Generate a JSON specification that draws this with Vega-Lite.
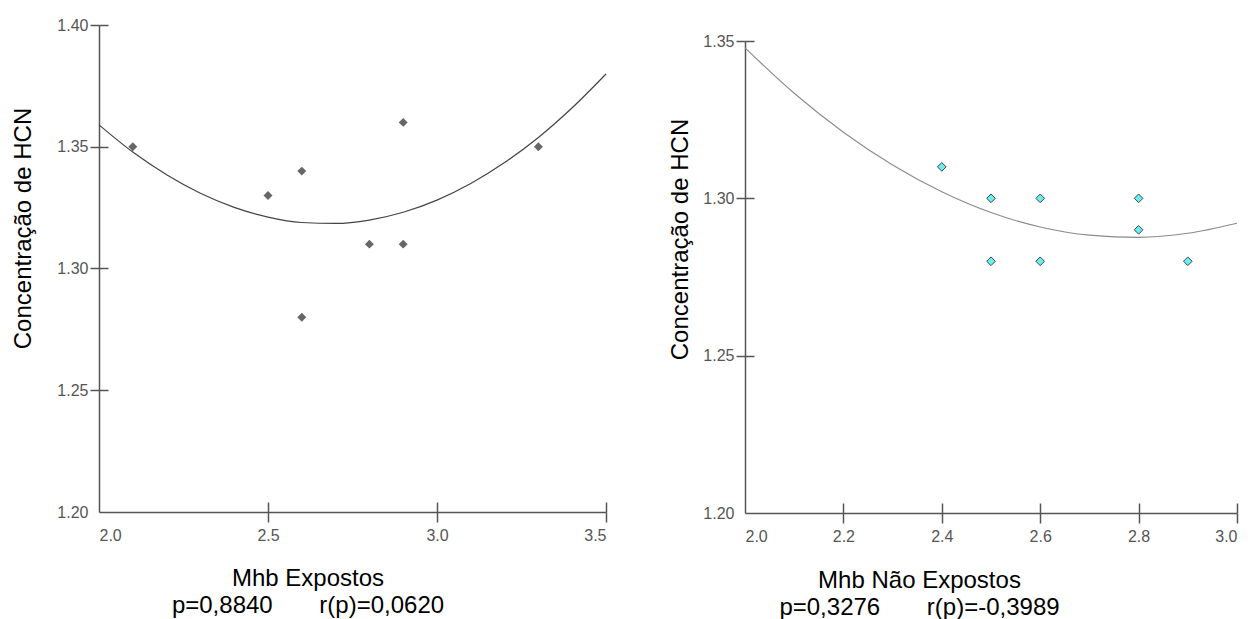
{
  "$schema": "https://vega.github.io/schema/vega-lite/v6.json",
  "background": "white",
  "padding": {"left": 11, "top": 17, "right": 0, "bottom": 0},
  "datasets": {
    "exp": [
      {"x": 2.1, "y": 1.35}, {"x": 2.5, "y": 1.33}, {"x": 2.6, "y": 1.34}, {"x": 2.6, "y": 1.28},
      {"x": 2.8, "y": 1.31}, {"x": 2.9, "y": 1.36}, {"x": 2.9, "y": 1.31}, {"x": 3.3, "y": 1.35}
    ],
    "exp_fit": [
      {"x": 2.0, "y": 1.3590}, {"x": 2.1, "y": 1.3478}, {"x": 2.2, "y": 1.3385}, {"x": 2.3, "y": 1.3309},
      {"x": 2.4, "y": 1.3251}, {"x": 2.5, "y": 1.3211}, {"x": 2.6, "y": 1.3189}, {"x": 2.7, "y": 1.3185},
      {"x": 2.8, "y": 1.3199}, {"x": 2.9, "y": 1.3231}, {"x": 3.0, "y": 1.3281}, {"x": 3.1, "y": 1.3349},
      {"x": 3.2, "y": 1.3435}, {"x": 3.3, "y": 1.3538}, {"x": 3.4, "y": 1.3660}, {"x": 3.5, "y": 1.3799}
    ],
    "nexp": [
      {"x": 2.4, "y": 1.31}, {"x": 2.5, "y": 1.30}, {"x": 2.6, "y": 1.30}, {"x": 2.8, "y": 1.30},
      {"x": 2.8, "y": 1.29}, {"x": 2.5, "y": 1.28}, {"x": 2.6, "y": 1.28}, {"x": 2.9, "y": 1.28}
    ],
    "nexp_fit": [
      {"x": 2.0, "y": 1.3478}, {"x": 2.1, "y": 1.3334}, {"x": 2.2, "y": 1.3210}, {"x": 2.3, "y": 1.3106},
      {"x": 2.4, "y": 1.3021}, {"x": 2.5, "y": 1.2955}, {"x": 2.6, "y": 1.2909}, {"x": 2.7, "y": 1.2883},
      {"x": 2.8, "y": 1.2876}, {"x": 2.9, "y": 1.2889}, {"x": 3.0, "y": 1.2921}
    ],
    "empty": []
  },
  "config": {
    "view": {"stroke": null},
    "axis": {
      "grid": false,
      "domainColor": "#555555",
      "domainWidth": 1.5,
      "tickColor": "#555555",
      "tickWidth": 1.5,
      "labelColor": "#555555",
      "labelFont": "Liberation Sans, Arial, sans-serif",
      "labelFontSize": 16,
      "titleFont": "Liberation Sans, Arial, sans-serif",
      "titleFontSize": 24,
      "titleFontWeight": "normal",
      "titleColor": "#000000"
    }
  },
  "concat": [
    {
      "width": 507,
      "height": 487,
      "layer": [
        {
          "data": {"name": "exp_fit"},
          "mark": {"type": "line", "color": "#444444", "strokeWidth": 1.2, "interpolate": "monotone"},
          "encoding": {
            "x": {"field": "x", "type": "quantitative",
              "scale": {"domain": [2.0, 3.5], "nice": false, "zero": false},
              "axis": {"orient": "bottom", "offset": -10, "tickSize": 10, "labels": false, "domain": false, "title": null,
                "values": [2.0, 2.5, 3.0, 3.5],
                "tickOpacity": {"condition": {"test": "datum.value < 2.01", "value": 0}, "value": 1}}},
            "y": {"field": "y", "type": "quantitative",
              "scale": {"domain": [1.2, 1.4], "nice": false, "zero": false},
              "axis": {"orient": "left", "offset": -9, "tickSize": 9, "labels": false, "domain": false, "title": null,
                "values": [1.2, 1.25, 1.3, 1.35, 1.4],
                "tickOpacity": {"condition": {"test": "datum.value < 1.201", "value": 0}, "value": 1}}}
          }
        },
        {
          "data": {"name": "exp"},
          "mark": {"type": "point", "shape": "diamond", "filled": true, "color": "#666666", "size": 80, "opacity": 1},
          "encoding": {
            "x": {"field": "x", "type": "quantitative",
              "scale": {"domain": [2.0, 3.5], "nice": false, "zero": false},
              "axis": {"orient": "bottom", "values": [2.0, 2.5, 3.0, 3.5], "format": ".1f", "tickSize": 10, "labelPadding": 5,
                "tickOpacity": {"condition": {"test": "datum.value < 2.01", "value": 0}, "value": 1},
                "title": ["Mhb Expostos", "p=0,8840\u00a0\u00a0\u00a0\u00a0\u00a0\u00a0\u00a0r(p)=0,0620"],
                "titleX": 208.5, "titleY": 73, "titleAlign": "center", "titleBaseline": "alphabetic", "titleLineHeight": 27, "titleAngle": 0}},
            "y": {"field": "y", "type": "quantitative",
              "scale": {"domain": [1.2, 1.4], "nice": false, "zero": false},
              "axis": {"orient": "left", "values": [1.2, 1.25, 1.3, 1.35, 1.4], "format": ".2f", "tickSize": 9, "labelPadding": 2,
                "tickOpacity": {"condition": {"test": "datum.value < 1.201", "value": 0}, "value": 1},
                "title": "Concentração de HCN",
                "titleX": -76, "titleY": 203, "titleAlign": "center", "titleBaseline": "middle", "titleAngle": -90}}
          }
        }
      ],
      "resolve": {"axis": {"x": "independent", "y": "independent"}}
    },
    {
      "vconcat": [
        {
          "width": 10,
          "height": 1,
          "data": {"name": "empty"},
          "mark": "point"
        },
        {
          "width": 492,
          "height": 472,
          "layer": [
            {
              "data": {"name": "nexp_fit"},
              "mark": {"type": "line", "color": "#8a8a8a", "strokeWidth": 1.1, "interpolate": "monotone"},
              "encoding": {
                "x": {"field": "x", "type": "quantitative",
                  "scale": {"domain": [2.0, 3.0], "nice": false, "zero": false},
                  "axis": {"orient": "bottom", "offset": -10, "tickSize": 10, "labels": false, "domain": false, "title": null,
                    "values": [2.0, 2.2, 2.4, 2.6, 2.8, 3.0],
                    "tickOpacity": {"condition": {"test": "datum.value < 2.01", "value": 0}, "value": 1}}},
                "y": {"field": "y", "type": "quantitative",
                  "scale": {"domain": [1.2, 1.35], "nice": false, "zero": false},
                  "axis": {"orient": "left", "offset": -9, "tickSize": 9, "labels": false, "domain": false, "title": null,
                    "values": [1.2, 1.25, 1.3, 1.35],
                    "tickOpacity": {"condition": {"test": "datum.value < 1.201", "value": 0}, "value": 1}}}
              }
            },
            {
              "data": {"name": "nexp"},
              "mark": {"type": "point", "shape": "diamond", "filled": false, "fill": "#66f0f0", "fillOpacity": 1, "stroke": "#444444", "strokeWidth": 1, "size": 75, "opacity": 1},
              "encoding": {
                "x": {"field": "x", "type": "quantitative",
                  "scale": {"domain": [2.0, 3.0], "nice": false, "zero": false},
                  "axis": {"orient": "bottom", "values": [2.0, 2.2, 2.4, 2.6, 2.8, 3.0], "format": ".1f", "tickSize": 10, "labelPadding": 5,
                    "tickOpacity": {"condition": {"test": "datum.value < 2.01", "value": 0}, "value": 1},
                    "title": ["Mhb Não Expostos", "p=0,3276\u00a0\u00a0\u00a0\u00a0\u00a0\u00a0\u00a0r(p)=-0,3989"],
                    "titleX": 174, "titleY": 74, "titleAlign": "center", "titleBaseline": "alphabetic", "titleLineHeight": 27, "titleAngle": 0}},
                "y": {"field": "y", "type": "quantitative",
                  "scale": {"domain": [1.2, 1.35], "nice": false, "zero": false},
                  "axis": {"orient": "left", "values": [1.2, 1.25, 1.3, 1.35], "format": ".2f", "tickSize": 9, "labelPadding": 2,
                    "tickOpacity": {"condition": {"test": "datum.value < 1.201", "value": 0}, "value": 1},
                    "title": "Concentração de HCN",
                    "titleX": -65, "titleY": 198, "titleAlign": "center", "titleBaseline": "middle", "titleAngle": -90}}
              }
            }
          ],
          "resolve": {"axis": {"x": "independent", "y": "independent"}}
        }
      ],
      "spacing": 15,
      "bounds": "flush"
    }
  ],
  "columns": 2,
  "align": "none",
  "bounds": "full",
  "spacing": 59
}
